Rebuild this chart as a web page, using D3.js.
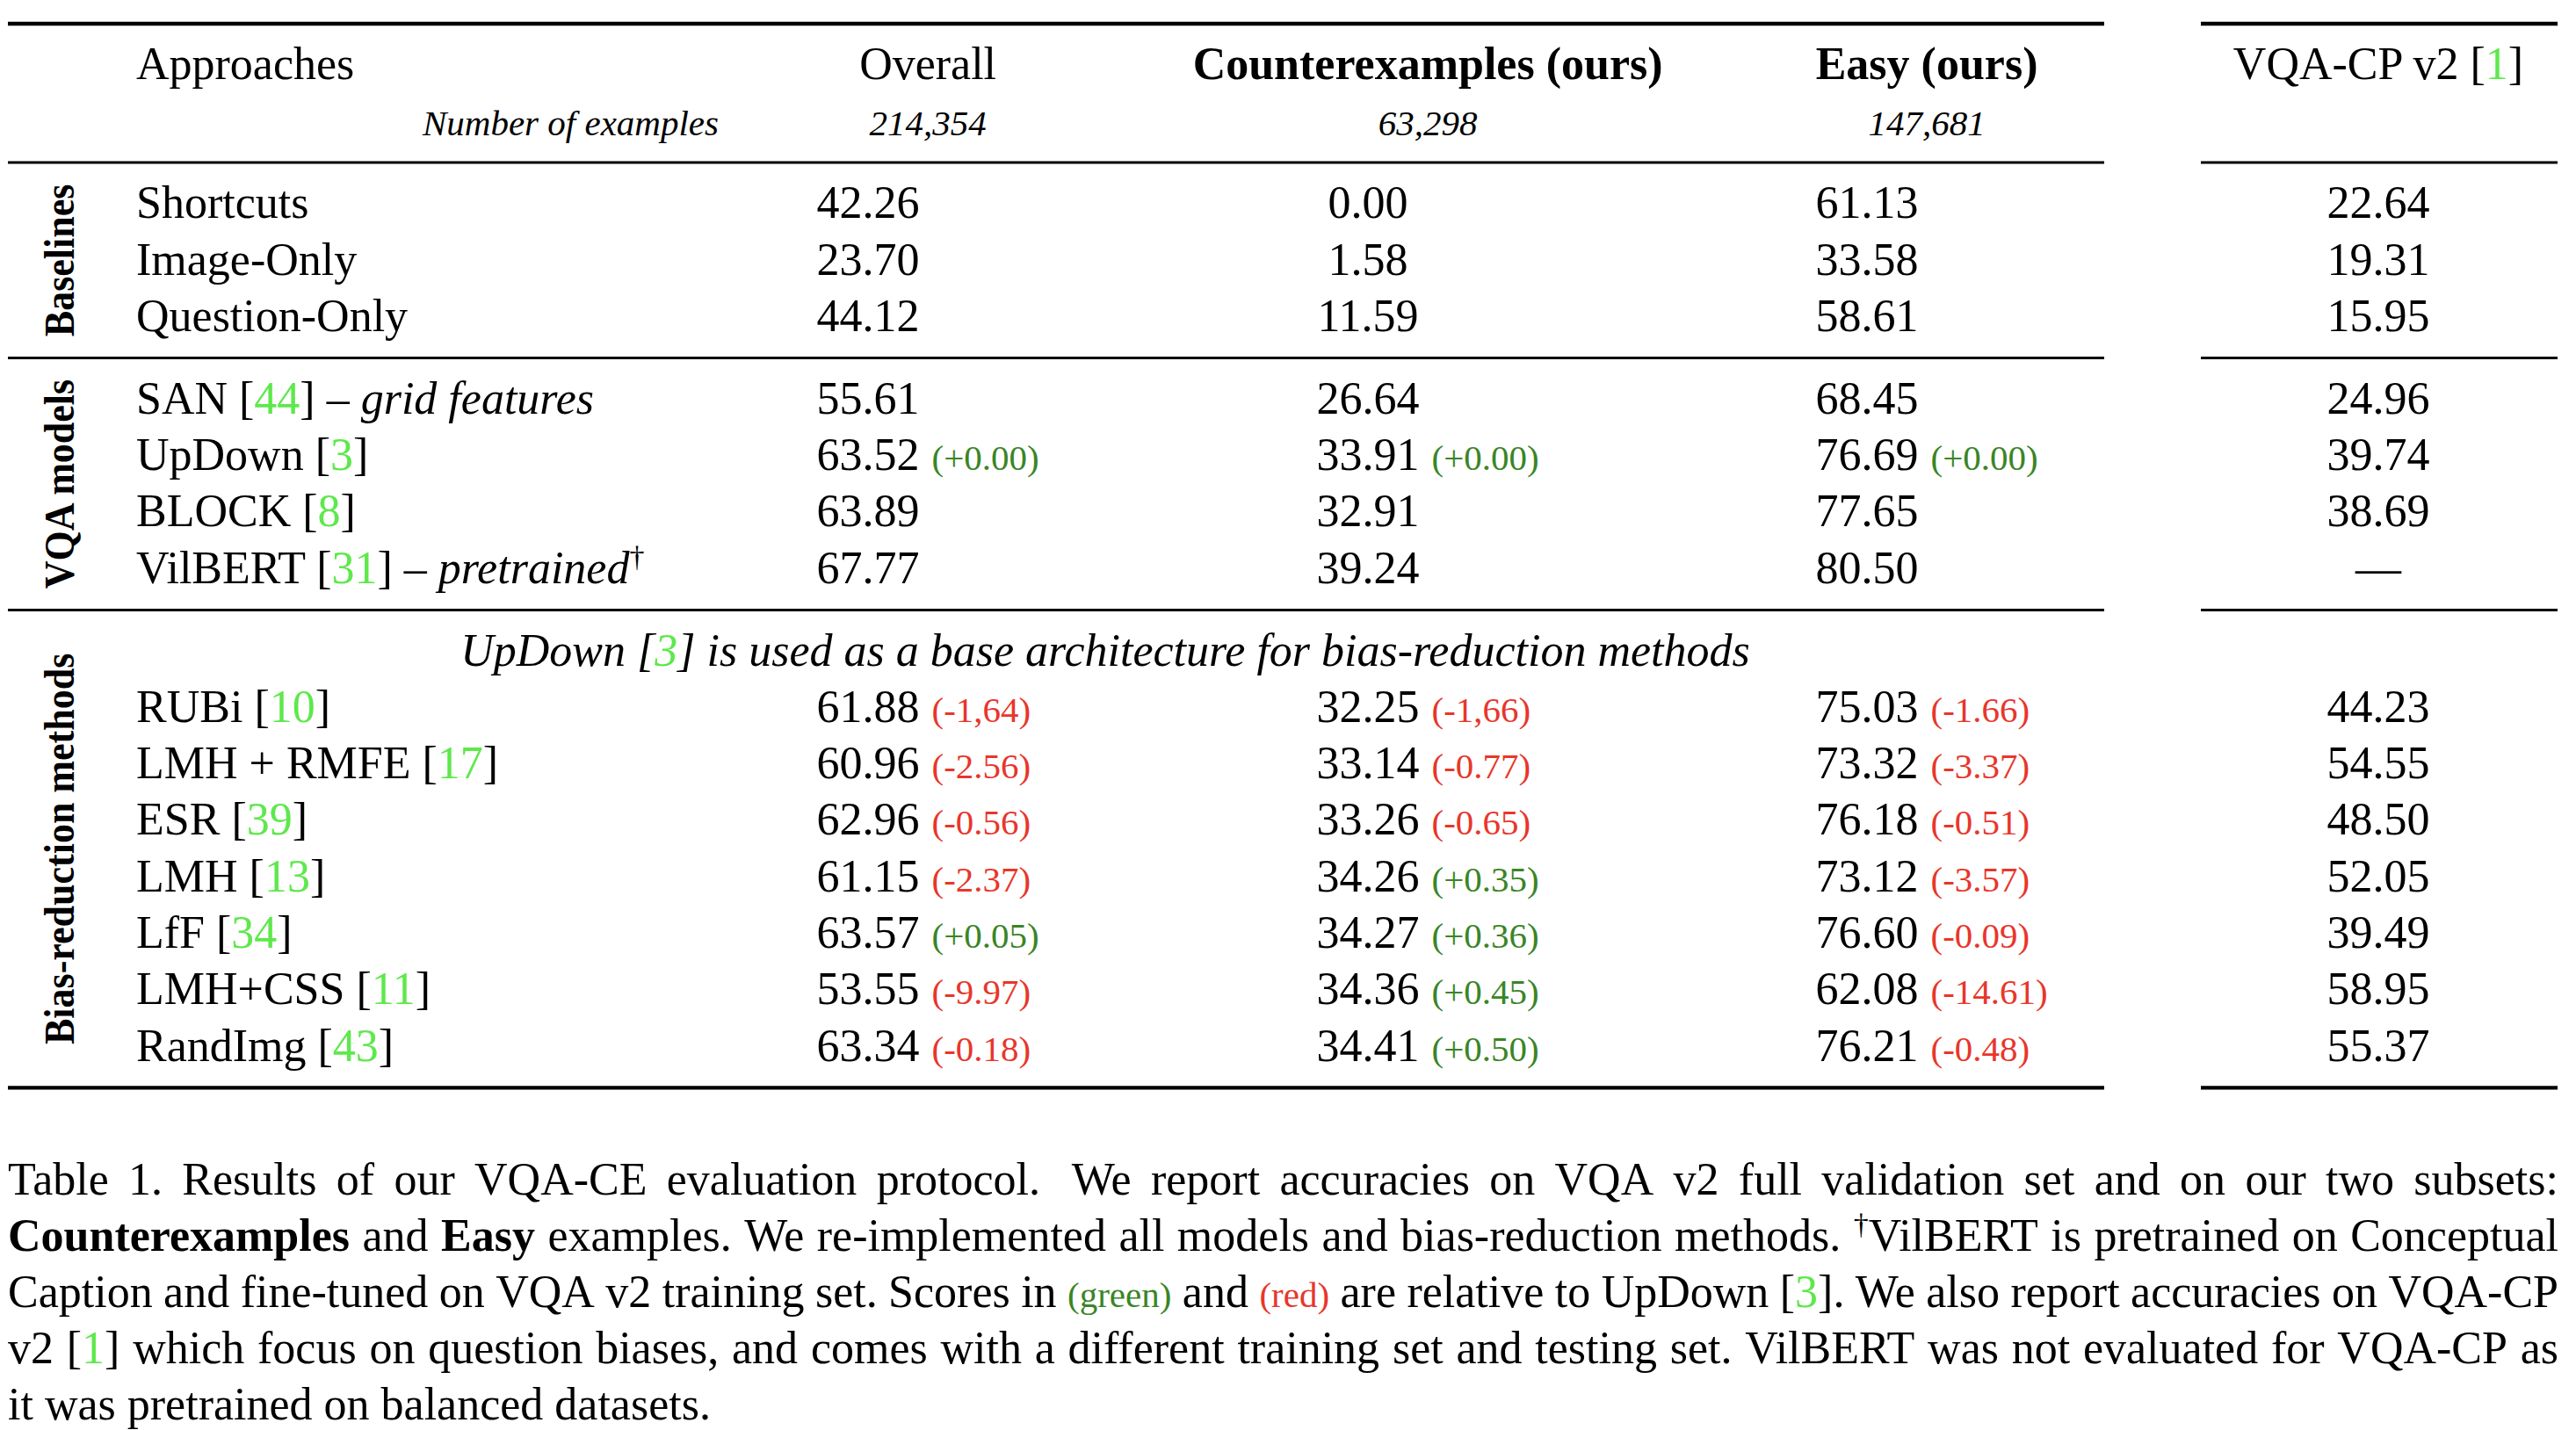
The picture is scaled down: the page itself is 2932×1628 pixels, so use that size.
<!DOCTYPE html>
<html><head><meta charset="utf-8">
<script src="https://cdn.jsdelivr.net/npm/d3@7"></script>
<style>html,body{margin:0;padding:0;background:#fff;} svg{display:block;} text{white-space:pre;}</style>
</head><body>
<script>
// ---------------- DATA ----------------
const groups = ["Baselines", "VQA models", "Bias-reduction methods"];
const methods = ["Shortcuts","Image-Only","Question-Only","SAN","UpDown","BLOCK","VilBERT","RUBi","LMH + RMFE","ESR","LMH","LfF","LMH+CSS","RandImg"];
const methodRefs = ["","","","44","3","8","31","10","17","39","13","34","11","43"];
const methodNotes = ["","","","grid features","","","pretrained","","","","","","",""];
const methodMarks = ["","","","","","","†","","","","","","",""];
const methodGroup = [0,0,0,1,1,1,1,2,2,2,2,2,2,2];
const columns = ["Overall","**Counterexamples (ours)**","**Easy (ours)**","VQA-CP v2 [1]"];
const numExamples = [214354, 63298, 147681];
const overall = [42.26,23.70,44.12,55.61,63.52,63.89,67.77,61.88,60.96,62.96,61.15,63.57,53.55,63.34];
const overallDelta = ["","","","","+0.00","","","-1,64","-2.56","-0.56","-2.37","+0.05","-9.97","-0.18"];
const counter = [0.00,1.58,11.59,26.64,33.91,32.91,39.24,32.25,33.14,33.26,34.26,34.27,34.36,34.41];
const counterDelta = ["","","","","+0.00","","","-1,66","-0.77","-0.65","+0.35","+0.36","+0.45","+0.50"];
const easy = [61.13,33.58,58.61,68.45,76.69,77.65,80.50,75.03,73.32,76.18,73.12,76.60,62.08,76.21];
const easyDelta = ["","","","","+0.00","","","-1.66","-3.37","-0.51","-3.57","-0.09","-14.61","-0.48"];
const vqacp = [22.64,19.31,15.95,24.96,39.74,38.69,null,44.23,54.55,48.50,52.05,39.49,58.95,55.37];
const bridgeNote = "UpDown [3] is used as a base architecture for bias-reduction methods";
const captionLines = [
  "Table 1. Results of our VQA-CE evaluation protocol.  We report accuracies on VQA v2 full validation set and on our two subsets:",
  "**Counterexamples** and **Easy** examples. We re-implemented all models and bias-reduction methods. †VilBERT is pretrained on Conceptual",
  "Caption and fine-tuned on VQA v2 training set. Scores in (green) and (red) are relative to UpDown [3]. We also report accuracies on VQA-CP",
  "v2 [1] which focus on question biases, and comes with a different training set and testing set. VilBERT was not evaluated for VQA-CP as",
  "it was pretrained on balanced datasets."
];

// ---------------- LAYOUT / STYLE ----------------
const W = 2932, H = 1628;
const FONT = "'Liberation Serif','Times New Roman',Times,serif";
const FS = 52, FS_SMALL = 41, FS_GROUP = 44, FS_GROUP_DRAW = 48, FS_SUP = 34;
const C_CITE = "#5ee84c", C_POS = "#3a8526", C_NEG = "#e8362b";
const TABLE_L = 9, TABLE_R = 2395, CP_L = 2505, CP_R = 2911;
const LABEL_X = 155, GROUP_X = 84, NOTE_X = 1258, NUMEX_R = 818;
const PITCH = 64.3, RULE_GAP = 29.6, FIRST_BASE = 90, RULE_OFF = 30.8;
const DELTA_GAP = 14;
const CAP_L = 9, CAP_R = 2912, CAP_PITCH = 64;

const svg = d3.select("body").append("svg")
  .attr("width", W).attr("height", H)
  .attr("font-family", FONT).attr("fill", "#000");

function measure(text, size, weight, style) {
  const t = svg.append("text").attr("font-size", size)
    .attr("font-weight", weight || "normal").attr("font-style", style || "normal").text(text);
  const w = t.node().getComputedTextLength();
  t.remove();
  return w;
}

// rich text: **bold**, _italic_, [n] citation, † superscript, (green)/(red)
function renderRich(t, str) {
  let back = 0;
  const add = (txt, fn) => {
    const s = t.append("tspan").text(txt);
    if (back) { s.attr("dy", back); back = 0; }
    if (fn) fn(s);
    return s;
  };
  str.split(/(\*\*[^*]+\*\*|_[^_]+_|\[\d+\]|†|\(green\)|\(red\))/).filter(s => s).forEach(s => {
    if (s.startsWith("**")) add(s.slice(2, -2), x => x.attr("font-weight", "bold"));
    else if (s.startsWith("_")) add(s.slice(1, -1), x => x.attr("font-style", "italic"));
    else if (/^\[\d+\]$/.test(s)) {
      add("["); add(s.slice(1, -1), x => x.attr("fill", C_CITE)); add("]");
    } else if (s === "†") {
      add("†", x => x.attr("font-size", FS_SUP).attr("dy", -19)); back = 19;
    } else if (s === "(green)" || s === "(red)") {
      add(s, x => x.attr("font-size", FS_SMALL).attr("fill", s === "(green)" ? C_POS : C_NEG));
    } else add(s);
  });
  return t;
}

// vertical scale: slot units (rows + fractional rule gaps)
const gapFrac = RULE_GAP / PITCH;
const yScale = d3.scaleLinear().domain([0, 1]).range([FIRST_BASE, FIRST_BASE + PITCH]);
const slotY = (row, rules) => yScale(row + rules * gapFrac);

// horizontal: column centres
const colX = d3.scaleOrdinal().domain(columns).range([988, 1557, 2125, 2707]);

const numFmt = d3.format(".2f");
const cntFmt = d3.format(",");
const valueCols = [overall, counter, easy, vqacp];
const deltaCols = [overallDelta, counterDelta, easyDelta, null];
const deltaW = measure("(+0.00)", FS_SMALL);
const headerOffset = (DELTA_GAP + deltaW) / 2;

// ---------------- RULES ----------------
const rowSlot = i => 2 + i + (methodGroup[i] === 2 ? 1 : 0);
const rowRules = i => 1 + methodGroup[i];
const rowY = i => slotY(rowSlot(i), rowRules(i));

const topRule = slotY(0, 0) - 63;
const headRule = slotY(1, 0) + RULE_OFF;
const groupEnds = groups.map((g, gi) => d3.max(methods.map((m, i) => i).filter(i => methodGroup[i] === gi)));
const groupRules = groupEnds.map(i => rowY(i) + RULE_OFF);
const ruleList = [
  { y: topRule, w: 4.3 },
  { y: headRule, w: 3 },
  { y: groupRules[0], w: 3 },
  { y: groupRules[1], w: 3 },
  { y: groupRules[2], w: 4.3 }
];
const rulesG = svg.append("g");
ruleList.forEach(r => {
  [[TABLE_L, TABLE_R], [CP_L, CP_R]].forEach(([a, b]) => {
    rulesG.append("line").attr("x1", a).attr("x2", b).attr("y1", r.y).attr("y2", r.y)
      .attr("stroke", "#000").attr("stroke-width", r.w);
  });
});

// ---------------- HEADER ----------------
const head = svg.append("g").attr("font-size", FS);
renderRich(head.append("text").attr("x", LABEL_X).attr("y", slotY(0, 0)), "Approaches");
columns.forEach((c, k) => {
  const cx = colX(c) + (deltaCols[k] ? headerOffset : 0);
  renderRich(head.append("text").attr("x", cx).attr("y", slotY(0, 0)).attr("text-anchor", "middle"), c);
});
head.append("text").attr("x", NUMEX_R).attr("y", slotY(1, 0)).attr("text-anchor", "end")
  .attr("font-size", FS_SMALL).attr("font-style", "italic").text("Number of examples");
numExamples.forEach((n, k) => {
  head.append("text").attr("x", colX(columns[k]) + headerOffset).attr("y", slotY(1, 0))
    .attr("text-anchor", "middle").attr("font-size", FS_SMALL).attr("font-style", "italic").text(cntFmt(n));
});

// ---------------- GROUP LABELS ----------------
const bounds = [headRule, ...groupRules];
groups.forEach((g, gi) => {
  const cy = (bounds[gi] + bounds[gi + 1]) / 2;
  const len = measure(g, FS_GROUP, "bold");
  svg.append("text").attr("transform", `translate(${GROUP_X},${cy}) rotate(-90)`)
    .attr("text-anchor", "middle").attr("font-size", FS_GROUP_DRAW).attr("font-weight", "bold")
    .attr("textLength", len).attr("lengthAdjust", "spacingAndGlyphs").text(g);
});

// ---------------- BRIDGE NOTE ----------------
const bridgeSlot = 2 + groupEnds[1] + 1;
renderRich(svg.append("text").attr("x", NOTE_X).attr("y", slotY(bridgeSlot, 3))
  .attr("text-anchor", "middle").attr("font-size", FS).attr("font-style", "italic"), bridgeNote);

// ---------------- BODY ----------------
const body = svg.append("g").attr("font-size", FS);
methods.forEach((m, i) => {
  const y = rowY(i);
  let label = m;
  if (methodRefs[i]) label += ` [${methodRefs[i]}]`;
  if (methodNotes[i]) label += ` – _${methodNotes[i]}_`;
  if (methodMarks[i]) label += methodMarks[i];
  renderRich(body.append("text").attr("x", LABEL_X).attr("y", y), label);

  valueCols.forEach((vals, k) => {
    const cx = colX(columns[k]);
    const v = vals[i];
    const txt = v == null ? "—" : numFmt(v);
    const t = body.append("text").attr("x", cx).attr("y", y).attr("text-anchor", "middle").text(txt);
    const d = deltaCols[k] ? deltaCols[k][i] : "";
    if (d) {
      const nw = t.node().getComputedTextLength();
      body.append("text").attr("x", cx + nw / 2 + DELTA_GAP).attr("y", y)
        .attr("font-size", FS_SMALL).attr("fill", d.startsWith("-") ? C_NEG : C_POS)
        .text(`(${d})`);
    }
  });
});

// ---------------- CAPTION ----------------
const cap = svg.append("g").attr("font-size", FS);
const capTop = groupRules[2] + 121.6;
captionLines.forEach((line, li) => {
  const y = capTop + li * CAP_PITCH;
  const words = [], weights = [];
  let pending = 1;
  line.split(" ").forEach(tok => {
    if (tok === "") { pending += 0.6; return; }
    if (words.length) weights.push(pending);
    pending = 1;
    words.push(tok);
  });
  const nodes = words.map(w => renderRich(cap.append("text").attr("y", y), w));
  const widths = nodes.map(n => n.node().getComputedTextLength());
  const justify = li < captionLines.length - 1;
  const unit = justify ? (CAP_R - CAP_L - d3.sum(widths)) / d3.sum(weights) : FS * 0.25;
  let x = CAP_L;
  nodes.forEach((n, i) => {
    n.attr("x", x);
    x += widths[i] + (i < weights.length ? weights[i] * unit : 0);
  });
});
</script>
</body></html>
